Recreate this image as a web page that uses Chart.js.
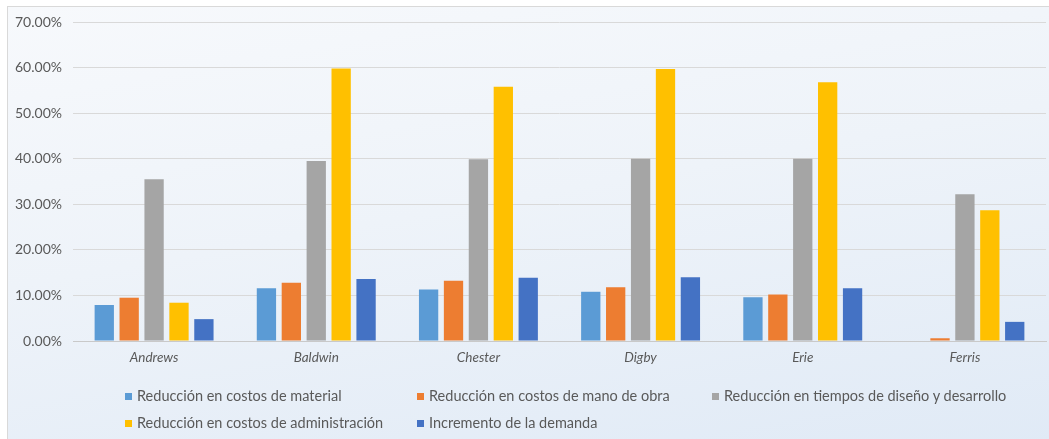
<!DOCTYPE html>
<html>
<head>
<meta charset="utf-8">
<script src="https://cdn.jsdelivr.net/npm/chart.js@4"></script>
<style>
  html, body { margin: 0; padding: 0; background: #ffffff; }
  #wrap { position: relative; width: 1049px; height: 439px; overflow: hidden; }
  #frame { position: absolute; left: 7px; top: 6px; width: 1050px; height: 440px; box-sizing: border-box;
    border: 1px solid #d9d9d9;
    background: linear-gradient(170deg, #f7f9fc 0%, #eef3f9 45%, #e0eaf6 100%); }
  #c { position: absolute; left: 0; top: 0; }
  .leg { position: absolute; font-family: Lato, "Open Sans", sans-serif; font-size: 14.5px; color: #595959; white-space: nowrap; line-height: 16px; }
  .leg i { display: inline-block; width: 7px; height: 7px; margin-right: 5px; vertical-align: 1px; }
</style>
</head>
<body>
<div id="wrap">
  <div id="frame"></div>
  <canvas id="c" width="1049" height="439"></canvas>
  <div id="legend"></div>
</div>
<script>
const categories = ['Andrews', 'Baldwin', 'Chester', 'Digby', 'Erie', 'Ferris'];
const seriesNames = [
  'Reducción en costos de material',
  'Reducción en costos de mano de obra',
  'Reducción en tiempos de diseño y desarrollo',
  'Reducción en costos de administración',
  'Incremento de la demanda'
];
const materialValues = [7.9, 11.6, 11.3, 10.8, 9.6, 0];
const manoObraValues = [9.5, 12.8, 13.2, 11.8, 10.2, 0.6];
const disenoValues = [35.5, 39.5, 39.9, 40.0, 40.0, 32.2];
const administracionValues = [8.4, 59.8, 55.8, 59.7, 56.8, 28.7];
const demandaValues = [4.8, 13.6, 13.9, 14.0, 11.6, 4.2];
const yTickValues = [0, 10, 20, 30, 40, 50, 60, 70];

const colors = ['#5B9BD5', '#ED7D31', '#A5A5A5', '#FFC000', '#4472C4'];
const allValues = [materialValues, manoObraValues, disenoValues, administracionValues, demandaValues];

const datasets = allValues.map((vals, i) => ({
  label: seriesNames[i],
  data: vals,
  backgroundColor: colors[i],
  borderWidth: 0,
  categoryPercentage: 0.768,
  barPercentage: 0.775
}));

// HTML legend laid out in a grid like the original
const legendPos = [
  { x: 125, y: 388 }, { x: 417, y: 388 }, { x: 712, y: 388 },
  { x: 125, y: 415 }, { x: 417, y: 415 }
];
const legendEl = document.getElementById('legend');
seriesNames.forEach((name, i) => {
  const d = document.createElement('div');
  d.className = 'leg';
  d.style.left = legendPos[i].x + 'px';
  d.style.top = legendPos[i].y + 'px';
  d.innerHTML = '<i style="background:' + colors[i] + '"></i>' + name;
  legendEl.appendChild(d);
});

new Chart(document.getElementById('c'), {
  type: 'bar',
  data: { labels: categories, datasets: datasets },
  options: {
    responsive: false,
    animation: false,
    layout: { padding: { left: 0, right: 3, top: 22, bottom: 0 } },
    plugins: { legend: { display: false }, tooltip: { enabled: false } },
    scales: {
      x: {
        grid: { display: false, drawTicks: false },
        border: { display: true, color: '#c9c9c9', width: 1 },
        ticks: {
          padding: 9,
          color: '#595959',
          font: { family: 'Lato, "Open Sans", sans-serif', size: 13.5, style: 'italic' }
        },
        afterFit: (s) => { s.height = 98; }
      },
      y: {
        min: 0,
        max: 70,
        afterBuildTicks: (s) => { s.ticks = yTickValues.map(v => ({ value: v })); },
        grid: { color: '#d9d9d9', drawTicks: false, lineWidth: 1 },
        border: { display: false },
        ticks: {
          padding: 11,
          color: '#595959',
          font: { family: 'Lato, "Open Sans", sans-serif', size: 14 },
          callback: (v) => Number(v).toFixed(2) + '%'
        },
        afterFit: (s) => { s.width = 73; }
      }
    }
  }
});
</script>
</body>
</html>
